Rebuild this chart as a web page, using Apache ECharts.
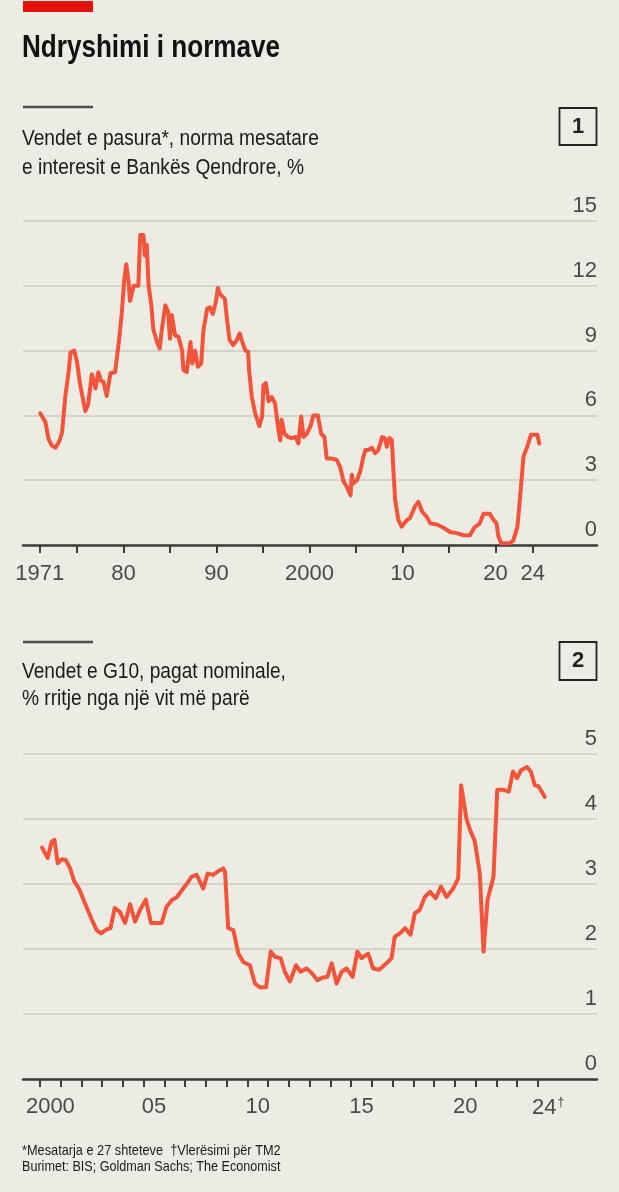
<!DOCTYPE html>
<html>
<head>
<meta charset="utf-8">
<style>
  html, body { margin: 0; padding: 0; background: #ecebe4; }
  #chart { width: 619px; height: 1192px; }
</style>
<script src="https://cdn.jsdelivr.net/npm/echarts@6/dist/echarts.min.js"></script>
</head>
<body>
<div id="chart"></div>
<script>
// ---- Chart 1: central bank rate, rich countries ----
const rateYears = [1971.05,1971.6,1971.95,1972.3,1972.7,1973.1,1973.4,1973.75,1974.1,1974.3,1974.7,1975.0,1975.35,1975.9,1976.2,1976.6,1977.0,1977.3,1977.6,1977.85,1978.2,1978.6,1979.1,1979.5,1979.8,1980.1,1980.3,1980.55,1980.7,1981.1,1981.6,1981.8,1982.15,1982.3,1982.5,1982.7,1983.0,1983.2,1983.6,1983.9,1984.1,1984.5,1984.8,1985.0,1985.2,1985.55,1985.9,1986.3,1986.45,1986.8,1987.2,1987.4,1987.7,1988.0,1988.35,1988.6,1989.0,1989.3,1989.6,1989.9,1990.15,1990.4,1990.9,1991.1,1991.4,1991.8,1992.2,1992.5,1992.7,1993.1,1993.4,1993.5,1993.8,1994.15,1994.6,1994.9,1995.05,1995.3,1995.6,1995.95,1996.3,1996.6,1996.85,1997.0,1997.3,1997.7,1998.1,1998.5,1998.8,1999.1,1999.35,1999.7,2000.1,2000.4,2000.9,2001.25,2001.6,2001.85,2002.4,2002.9,2003.3,2003.65,2004.0,2004.4,2004.55,2004.7,2005.1,2005.45,2005.8,2006.0,2006.3,2006.7,2007.05,2007.4,2007.8,2008.1,2008.3,2008.6,2008.85,2009.0,2009.2,2009.55,2009.9,2010.45,2010.8,2011.35,2011.7,2012.1,2012.6,2013.0,2013.7,2014.4,2015.1,2015.8,2016.55,2017.25,2017.7,2018.3,2018.7,2019.35,2019.8,2020.1,2020.3,2020.6,2021.5,2021.9,2022.35,2022.7,2023.0,2023.4,2023.8,2024.5,2024.7];
const rateValues = [6.1,5.7,4.9,4.6,4.5,4.8,5.2,6.9,8.0,8.9,9.0,8.5,7.4,6.2,6.5,7.9,7.25,8.0,7.6,7.55,6.9,7.95,8.0,9.4,10.65,12.35,13.0,12.2,11.3,12.0,12.0,14.35,14.35,13.4,13.9,12.0,11.1,10.0,9.4,9.1,9.9,11.1,10.8,9.55,10.65,9.7,9.65,9.0,8.1,8.0,9.4,8.4,9.0,8.25,8.4,9.95,10.95,11.0,10.7,11.2,11.9,11.6,11.4,10.55,9.5,9.25,9.5,9.8,9.5,9.0,8.95,8.1,6.85,6.1,5.5,5.95,7.4,7.5,6.65,6.85,6.55,5.5,4.85,5.8,5.15,5.0,4.95,5.0,4.7,5.95,5.0,5.15,5.5,6.0,6.0,5.15,5.0,4.0,4.0,3.95,3.6,2.95,2.7,2.3,3.25,2.85,3.0,3.4,4.1,4.4,4.4,4.5,4.25,4.4,5.0,4.95,4.55,4.95,4.85,3.6,2.1,1.15,0.85,1.15,1.25,1.8,2.0,1.55,1.3,1.0,0.95,0.8,0.6,0.55,0.45,0.45,0.8,1.0,1.45,1.45,1.15,1.0,0.4,0.08,0.08,0.2,0.85,2.55,4.1,4.55,5.1,5.1,4.7];
const rateTickYears = [1971,1975,1980,1985,1990,1995,2000,2005,2010,2015,2020,2024];
const rateLabelYears = [1971,1980,1990,2000,2010,2020,2024];
const rateLabelTexts = ['1971','80','90','2000','10','20','24'];
const rateYTicks = [0,3,6,9,12,15];

// ---- Chart 2: G10 nominal wages, % y/y ----
const wageYears = [2000.1,2000.37,2000.56,2000.7,2000.85,2001.05,2001.24,2001.45,2001.65,2001.88,2002.17,2002.5,2002.73,2002.94,2003.2,2003.4,2003.6,2003.85,2004.1,2004.34,2004.58,2004.82,2005.1,2005.35,2005.62,2005.86,2006.1,2006.35,2006.6,2006.83,2007.07,2007.3,2007.55,2007.87,2008.08,2008.35,2008.6,2008.83,2008.92,2009.07,2009.32,2009.56,2009.8,2010.12,2010.36,2010.6,2010.9,2011.12,2011.33,2011.6,2011.8,2012.05,2012.34,2012.56,2012.85,2013.1,2013.37,2013.62,2013.85,2014.06,2014.3,2014.54,2014.78,2015.07,2015.3,2015.5,2015.82,2016.06,2016.35,2016.7,2016.95,2017.1,2017.35,2017.6,2017.86,2018.07,2018.3,2018.55,2018.8,2019.08,2019.33,2019.6,2019.92,2020.16,2020.3,2020.56,2020.72,2020.96,2021.2,2021.38,2021.57,2021.86,2022.04,2022.33,2022.6,2022.8,2023.0,2023.19,2023.47,2023.66,2023.85,2024.04,2024.33];
const wageValues = [3.56,3.4,3.65,3.68,3.32,3.38,3.37,3.24,3.04,2.93,2.7,2.45,2.29,2.24,2.3,2.32,2.63,2.57,2.4,2.69,2.42,2.6,2.76,2.4,2.4,2.4,2.65,2.75,2.8,2.9,3.0,3.11,3.14,2.93,3.16,3.14,3.2,3.24,3.19,2.32,2.29,1.93,1.8,1.75,1.47,1.41,1.41,1.96,1.88,1.86,1.65,1.5,1.75,1.65,1.7,1.63,1.52,1.56,1.57,1.78,1.47,1.65,1.7,1.57,1.96,1.86,1.93,1.7,1.68,1.78,1.86,2.19,2.24,2.32,2.22,2.55,2.6,2.8,2.88,2.78,2.96,2.8,2.93,3.09,4.52,4.0,3.84,3.66,3.16,1.96,2.75,3.11,4.45,4.45,4.42,4.73,4.63,4.75,4.8,4.73,4.52,4.5,4.34];
const wageTickYears = [2000,2001,2002,2003,2004,2005,2006,2007,2008,2009,2010,2011,2012,2013,2014,2015,2016,2017,2018,2019,2020,2021,2022,2023,2024];
const wageLabelYears = [2000,2005,2010,2015,2020,2024];
const wageLabelTexts = ['2000','05','10','15','20','24'];
const wageYTicks = [0,1,2,3,4,5];

// ---- Texts ----
const titleText = 'Ndryshimi i normave';
const sub1Lines = ['Vendet e pasura*, norma mesatare', 'e interesit e Bankës Qendrore, %'];
const sub2Lines = ['Vendet e G10, pagat nominale,', '% rritje nga një vit më parë'];
const footLines = ['*Mesatarja e 27 shteteve  †Vlerësimi për TM2', 'Burimet: BIS; Goldman Sachs; The Economist'];

const FONT = '"Liberation Sans Narrow", "Liberation Sans", Arial, sans-serif';
const RED = '#f4553a';
const GRID = '#cbcac3';
const AXIS = '#3d3d3d';
const LABEL = '#4a4a4a';

const zip = (xs, ys) => xs.map((x, i) => [x, ys[i]]);

const chart = echarts.init(document.getElementById('chart'), null, { renderer: 'canvas' });

function yAxisCfg(gridIndex, max, interval) {
  return {
    gridIndex, type: 'value', position: 'right', min: 0, max, interval,
    axisLine: { show: false }, axisTick: { show: false },
    splitLine: { show: true, lineStyle: { color: GRID, width: 1.5 } },
    axisLabel: {
      inside: true, margin: 0, align: 'right', verticalAlign: 'bottom',
      fontFamily: FONT, fontSize: 22, lineHeight: 22, color: LABEL, padding: [0, 0, 4, 0]
    }
  };
}

function txt(x, y, text, size, scaleX, extra) {
  return {
    type: 'text', x, y, scaleX, originX: 0,
    style: Object.assign({ text, fontFamily: FONT, fontSize: size, fill: '#1a1a1a', verticalAlign: 'middle' }, extra || {})
  };
}

const option = {
  backgroundColor: '#ecebe4',
  animation: false,
  grid: [
    { left: 23, right: 22, top: 221, height: 324 },
    { left: 23, right: 22, top: 754, height: 325 }
  ],
  xAxis: [
    {
      gridIndex: 0, type: 'value', min: 1969.2, max: 2030.9,
      splitLine: { show: false },
      axisLine: { show: true, lineStyle: { color: AXIS, width: 2.5 } },
      axisTick: { show: true, customValues: rateTickYears, length: 8, lineStyle: { color: AXIS, width: 2 } },
      axisLabel: {
        customValues: rateLabelYears, margin: 18, fontFamily: FONT, fontSize: 22, color: LABEL,
        formatter: v => rateLabelTexts[rateLabelYears.indexOf(Math.round(v))] || ''
      }
    },
    {
      gridIndex: 1, type: 'value', min: 1999.18, max: 2026.85,
      splitLine: { show: false },
      axisLine: { show: true, lineStyle: { color: AXIS, width: 2.5 } },
      axisTick: { show: true, customValues: wageTickYears, length: 8, lineStyle: { color: AXIS, width: 2 } },
      axisLabel: {
        customValues: wageLabelYears.map(y => y + 0.5), margin: 17, fontFamily: FONT, fontSize: 22, color: LABEL,
        formatter: v => {
          const y = Math.round(v - 0.5);
          const t = wageLabelTexts[wageLabelYears.indexOf(y)] || '';
          return y === 2024 ? '{a|' + t + '}{s|†}' : t;
        },
        rich: {
          a: { fontFamily: FONT, fontSize: 22, color: LABEL },
          s: { fontFamily: FONT, fontSize: 13, color: LABEL, verticalAlign: 'top', padding: [0, 0, 10, 1] }
        }
      }
    }
  ],
  yAxis: [ yAxisCfg(0, 15, 3), yAxisCfg(1, 5, 1) ],
  series: [
    {
      type: 'line', xAxisIndex: 0, yAxisIndex: 0, data: zip(rateYears, rateValues),
      symbol: 'none', clip: false, z: 5,
      lineStyle: { color: RED, width: 4, join: 'round', cap: 'round' }
    },
    {
      type: 'line', xAxisIndex: 1, yAxisIndex: 1, data: zip(wageYears, wageValues),
      symbol: 'none', clip: false, z: 5,
      lineStyle: { color: RED, width: 4, join: 'round', cap: 'round' }
    }
  ],
  graphic: [
    { type: 'rect', shape: { x: 23, y: 1, width: 70, height: 11 }, style: { fill: '#e3120b' } },
    txt(22, 48, titleText, 32, 0.815, { fontWeight: 'bold', fill: '#111' }),
    // panel 1 header
    { type: 'line', shape: { x1: 23, y1: 107, x2: 93, y2: 107 }, style: { stroke: '#4d4d4d', lineWidth: 2.5 } },
    txt(22, 139, sub1Lines[0], 22, 0.87),
    txt(22, 168, sub1Lines[1], 22, 0.87),
    { type: 'rect', shape: { x: 559.5, y: 108, width: 37, height: 37 }, style: { fill: 'none', stroke: '#222', lineWidth: 1.8 } },
    { type: 'text', x: 578, y: 127, style: { text: '1', fontFamily: FONT, fontWeight: 'bold', fontSize: 22, fill: '#222', align: 'center', verticalAlign: 'middle' } },
    // panel 2 header
    { type: 'line', shape: { x1: 23, y1: 642, x2: 93, y2: 642 }, style: { stroke: '#4d4d4d', lineWidth: 2.5 } },
    txt(22, 672, sub2Lines[0], 22, 0.87),
    txt(22, 699, sub2Lines[1], 22, 0.87),
    { type: 'rect', shape: { x: 559.5, y: 642, width: 37, height: 38 }, style: { fill: 'none', stroke: '#222', lineWidth: 1.8 } },
    { type: 'text', x: 578, y: 661, style: { text: '2', fontFamily: FONT, fontWeight: 'bold', fontSize: 22, fill: '#222', align: 'center', verticalAlign: 'middle' } },
    // footnotes
    txt(22, 1151, footLines[0], 15, 0.85),
    txt(22, 1167, footLines[1], 15, 0.84)
  ]
};

chart.setOption(option);
</script>
</body>
</html>
